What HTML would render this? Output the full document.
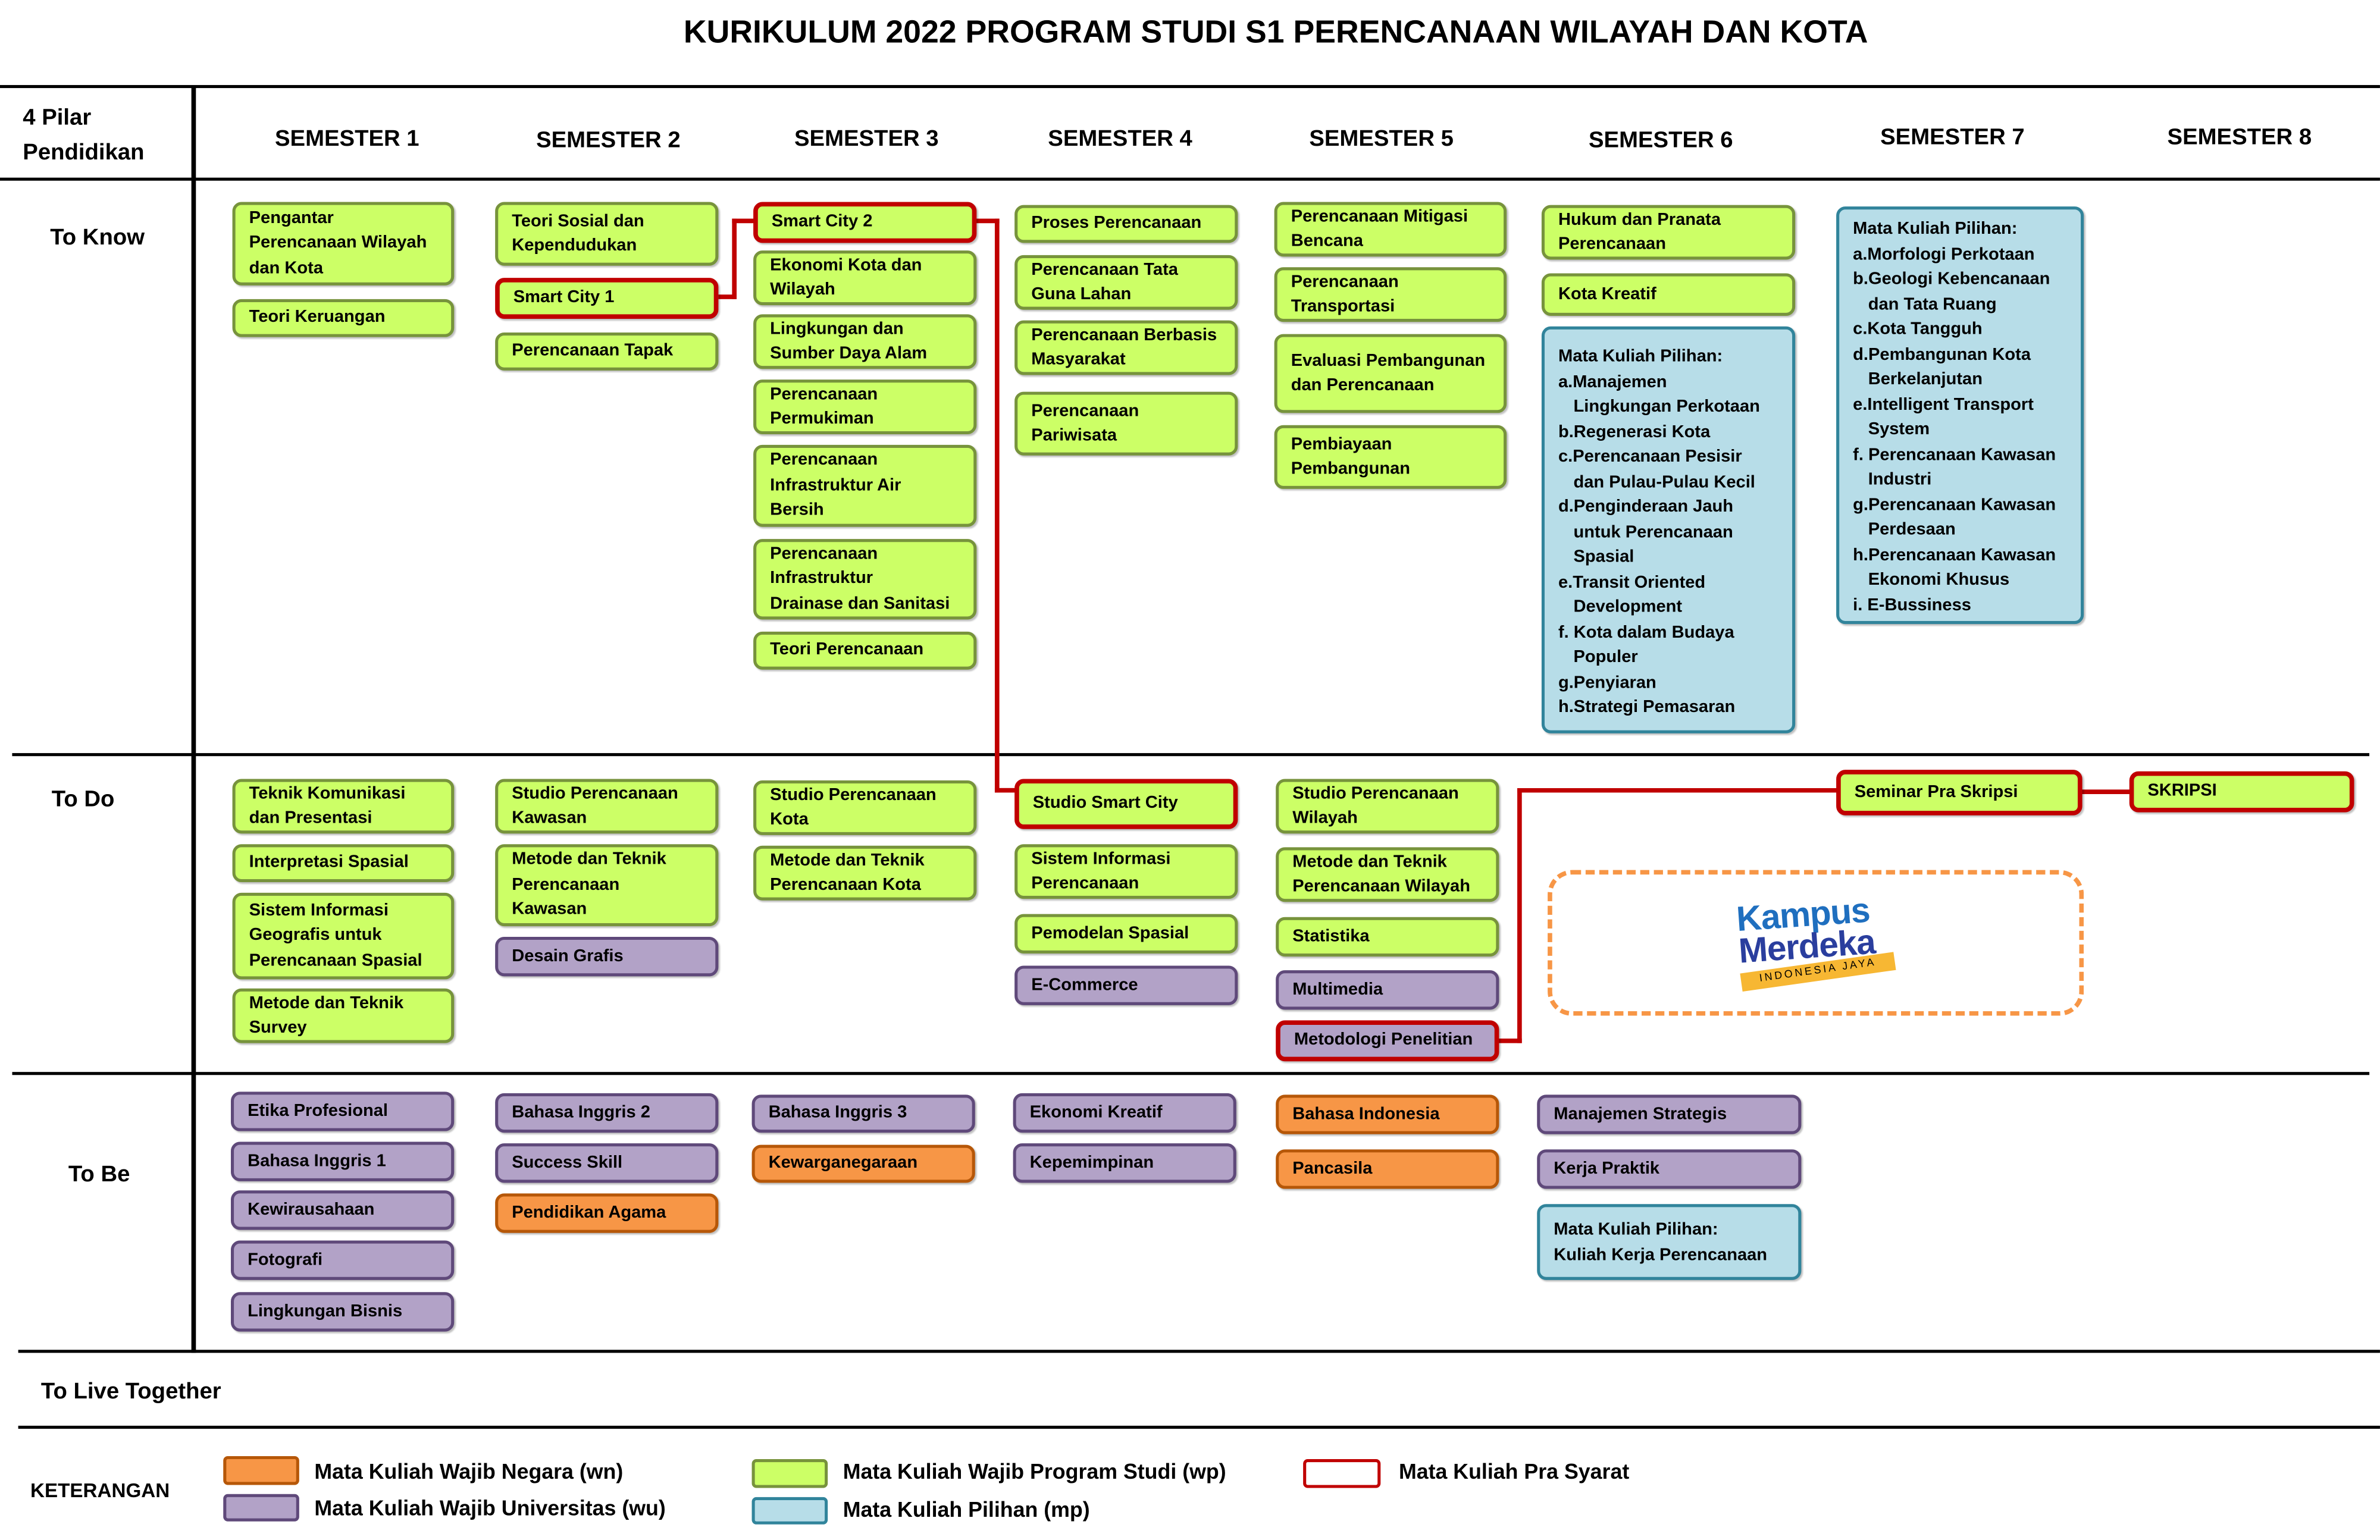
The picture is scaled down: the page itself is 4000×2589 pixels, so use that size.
<!DOCTYPE html>
<html><head><meta charset="utf-8">
<style>
html,body{margin:0;padding:0;background:#fff;}
body{width:4000px;height:2589px;overflow:hidden;position:relative;}
#s{position:absolute;left:0;top:0;width:1567px;height:1014px;transform:scale(2.5526);transform-origin:0 0;font-family:"Liberation Sans",sans-serif;color:#000;}
.t{position:absolute;font-weight:bold;white-space:nowrap;}
.l{position:absolute;background:#000;}
.b{position:absolute;display:flex;align-items:center;box-sizing:border-box;border:2px solid #77933c;background:#ccff66;border-radius:6px;padding:0 9px;font-weight:bold;font-size:11.4px;line-height:16.5px;white-space:nowrap;box-shadow:1px 1px 1px rgba(0,0,0,.25);}
.p{background:#b2a2c7;border-color:#5f497a;}
.o{background:#f79646;border-color:#b65708;}
.bl{background:#b7dde8;border-color:#31849b;display:block;padding:8px 9px;}
.r{border:3px solid #c00000;}
.bl .i{padding-left:10px;}
.rl{position:absolute;background:#c00000;}
</style></head><body><div id="s">
<div class="t" style="left:0;width:1680px;text-align:center;top:10px;font-size:21px;">KURIKULUM 2022 PROGRAM STUDI S1 PERENCANAAN WILAYAH DAN KOTA</div>
<div class="l" style="left:0;top:56px;width:1567px;height:2px;"></div>
<div class="l" style="left:126px;top:57px;width:3px;height:834px;"></div>
<div class="l" style="left:0;top:117px;width:1567px;height:2px;"></div>
<div class="l" style="left:8px;top:496px;width:1552px;height:2px;"></div>
<div class="l" style="left:8px;top:706px;width:1552px;height:2px;"></div>
<div class="l" style="left:12px;top:889px;width:1555px;height:2px;"></div>
<div class="l" style="left:12px;top:939px;width:1555px;height:2px;"></div>

<div class="t" style="left:15px;top:66px;font-size:15px;line-height:23px;">4 Pilar<br>Pendidikan</div>
<div class="t" style="left:181px;top:83px;font-size:15px;">SEMESTER 1</div>
<div class="t" style="left:353px;top:84px;font-size:15px;">SEMESTER 2</div>
<div class="t" style="left:523px;top:83px;font-size:15px;">SEMESTER 3</div>
<div class="t" style="left:690px;top:83px;font-size:15px;">SEMESTER 4</div>
<div class="t" style="left:862px;top:83px;font-size:15px;">SEMESTER 5</div>
<div class="t" style="left:1046px;top:84px;font-size:15px;">SEMESTER 6</div>
<div class="t" style="left:1238px;top:82px;font-size:15px;">SEMESTER 7</div>
<div class="t" style="left:1427px;top:82px;font-size:15px;">SEMESTER 8</div>
<div class="t" style="left:33px;top:148px;font-size:15px;">To Know</div>
<div class="t" style="left:34px;top:518px;font-size:15px;">To Do</div>
<div class="t" style="left:45px;top:765px;font-size:15px;">To Be</div>
<div class="t" style="left:27px;top:908px;font-size:15px;">To Live Together</div>

<div class="rl" style="left:473px;top:194px;width:12px;height:3px;"></div>
<div class="rl" style="left:482px;top:144px;width:3px;height:53px;"></div>
<div class="rl" style="left:482px;top:144px;width:16px;height:3px;"></div>
<div class="rl" style="left:641px;top:144px;width:17px;height:3px;"></div>
<div class="rl" style="left:655px;top:144px;width:3px;height:378px;"></div>
<div class="rl" style="left:655px;top:519px;width:15px;height:3px;"></div>
<div class="rl" style="left:985px;top:684px;width:17px;height:3px;"></div>
<div class="rl" style="left:999px;top:519px;width:3px;height:168px;"></div>
<div class="rl" style="left:999px;top:519px;width:212px;height:3px;"></div>
<div class="rl" style="left:1369px;top:520px;width:35px;height:3px;"></div>

<div class="b" style="left:153px;top:133px;width:146px;height:55px;">Pengantar<br>Perencanaan Wilayah<br>dan Kota</div>
<div class="b" style="left:153px;top:197px;width:146px;height:25px;">Teori Keruangan</div>
<div class="b" style="left:153px;top:513px;width:146px;height:36px;">Teknik Komunikasi<br>dan Presentasi</div>
<div class="b" style="left:153px;top:556px;width:146px;height:25px;">Interpretasi Spasial</div>
<div class="b" style="left:153px;top:588px;width:146px;height:57px;">Sistem Informasi<br>Geografis untuk<br>Perencanaan Spasial</div>
<div class="b" style="left:153px;top:651px;width:146px;height:36px;">Metode dan Teknik<br>Survey</div>
<div class="b p" style="left:152px;top:719px;width:147px;height:26px;">Etika Profesional</div>
<div class="b p" style="left:152px;top:752px;width:147px;height:26px;">Bahasa Inggris 1</div>
<div class="b p" style="left:152px;top:784px;width:147px;height:26px;">Kewirausahaan</div>
<div class="b p" style="left:152px;top:817px;width:147px;height:26px;">Fotografi</div>
<div class="b p" style="left:152px;top:851px;width:147px;height:26px;">Lingkungan Bisnis</div>

<div class="b" style="left:326px;top:133px;width:147px;height:42px;">Teori Sosial dan<br>Kependudukan</div>
<div class="b r" style="left:326px;top:183px;width:147px;height:27px;">Smart City 1</div>
<div class="b" style="left:326px;top:219px;width:147px;height:25px;">Perencanaan Tapak</div>
<div class="b" style="left:326px;top:513px;width:147px;height:36px;">Studio Perencanaan<br>Kawasan</div>
<div class="b" style="left:326px;top:556px;width:147px;height:54px;">Metode dan Teknik<br>Perencanaan<br>Kawasan</div>
<div class="b p" style="left:326px;top:617px;width:147px;height:26px;">Desain Grafis</div>
<div class="b p" style="left:326px;top:720px;width:147px;height:26px;">Bahasa Inggris 2</div>
<div class="b p" style="left:326px;top:753px;width:147px;height:26px;">Success Skill</div>
<div class="b o" style="left:326px;top:786px;width:147px;height:26px;">Pendidikan Agama</div>

<div class="b r" style="left:496px;top:133px;width:147px;height:27px;">Smart City 2</div>
<div class="b" style="left:496px;top:165px;width:147px;height:36px;">Ekonomi Kota dan<br>Wilayah</div>
<div class="b" style="left:496px;top:207px;width:147px;height:36px;">Lingkungan dan<br>Sumber Daya Alam</div>
<div class="b" style="left:496px;top:250px;width:147px;height:36px;">Perencanaan<br>Permukiman</div>
<div class="b" style="left:496px;top:293px;width:147px;height:54px;">Perencanaan<br>Infrastruktur Air<br>Bersih</div>
<div class="b" style="left:496px;top:355px;width:147px;height:53px;">Perencanaan<br>Infrastruktur<br>Drainase dan Sanitasi</div>
<div class="b" style="left:496px;top:416px;width:147px;height:25px;">Teori Perencanaan</div>
<div class="b" style="left:496px;top:514px;width:147px;height:36px;">Studio Perencanaan<br>Kota</div>
<div class="b" style="left:496px;top:557px;width:147px;height:36px;">Metode dan Teknik<br>Perencanaan Kota</div>
<div class="b p" style="left:495px;top:721px;width:147px;height:25px;">Bahasa Inggris 3</div>
<div class="b o" style="left:495px;top:754px;width:147px;height:25px;">Kewarganegaraan</div>

<div class="b" style="left:668px;top:135px;width:147px;height:25px;">Proses Perencanaan</div>
<div class="b" style="left:668px;top:168px;width:147px;height:36px;">Perencanaan Tata<br>Guna Lahan</div>
<div class="b" style="left:668px;top:211px;width:147px;height:36px;">Perencanaan Berbasis<br>Masyarakat</div>
<div class="b" style="left:668px;top:258px;width:147px;height:42px;">Perencanaan<br>Pariwisata</div>
<div class="b r" style="left:668px;top:513px;width:147px;height:33px;">Studio Smart City</div>
<div class="b" style="left:668px;top:556px;width:147px;height:36px;">Sistem Informasi<br>Perencanaan</div>
<div class="b" style="left:668px;top:602px;width:147px;height:26px;">Pemodelan Spasial</div>
<div class="b p" style="left:668px;top:636px;width:147px;height:26px;">E-Commerce</div>
<div class="b p" style="left:667px;top:720px;width:147px;height:26px;">Ekonomi Kreatif</div>
<div class="b p" style="left:667px;top:753px;width:147px;height:26px;">Kepemimpinan</div>

<div class="b" style="left:839px;top:133px;width:153px;height:36px;">Perencanaan Mitigasi<br>Bencana</div>
<div class="b" style="left:839px;top:176px;width:153px;height:36px;">Perencanaan<br>Transportasi</div>
<div class="b" style="left:839px;top:220px;width:153px;height:52px;">Evaluasi Pembangunan<br>dan Perencanaan</div>
<div class="b" style="left:839px;top:280px;width:153px;height:42px;">Pembiayaan<br>Pembangunan</div>
<div class="b" style="left:840px;top:513px;width:147px;height:36px;">Studio Perencanaan<br>Wilayah</div>
<div class="b" style="left:840px;top:558px;width:147px;height:36px;">Metode dan Teknik<br>Perencanaan Wilayah</div>
<div class="b" style="left:840px;top:604px;width:147px;height:26px;">Statistika</div>
<div class="b p" style="left:840px;top:639px;width:147px;height:26px;">Multimedia</div>
<div class="b p r" style="left:840px;top:672px;width:147px;height:27px;">Metodologi Penelitian</div>
<div class="b o" style="left:840px;top:721px;width:147px;height:26px;">Bahasa Indonesia</div>
<div class="b o" style="left:840px;top:757px;width:147px;height:26px;">Pancasila</div>

<div class="b" style="left:1015px;top:135px;width:167px;height:36px;">Hukum dan Pranata<br>Perencanaan</div>
<div class="b" style="left:1015px;top:180px;width:167px;height:28px;">Kota Kreatif</div>
<div class="b bl" style="left:1015px;top:215px;width:167px;height:268px;padding-top:10px;">
<div>Mata Kuliah Pilihan:</div><div>a.Manajemen</div><div class="i">Lingkungan Perkotaan</div><div>b.Regenerasi Kota</div><div>c.Perencanaan Pesisir</div><div class="i">dan Pulau-Pulau Kecil</div><div>d.Penginderaan Jauh</div><div class="i">untuk Perencanaan</div><div class="i">Spasial</div><div>e.Transit Oriented</div><div class="i">Development</div><div>f.&nbsp;Kota dalam Budaya</div><div class="i">Populer</div><div>g.Penyiaran</div><div>h.Strategi Pemasaran</div></div>
<div class="b p" style="left:1012px;top:721px;width:174px;height:26px;">Manajemen Strategis</div>
<div class="b p" style="left:1012px;top:757px;width:174px;height:26px;">Kerja Praktik</div>
<div class="b bl" style="left:1012px;top:793px;width:174px;height:50px;padding-top:7px;"><div>Mata Kuliah Pilihan:</div><div>Kuliah Kerja Perencanaan</div></div>

<div class="b bl" style="left:1209px;top:136px;width:163px;height:275px;padding-top:5px;">
<div>Mata Kuliah Pilihan:</div><div>a.Morfologi Perkotaan</div><div>b.Geologi Kebencanaan</div><div class="i">dan Tata Ruang</div><div>c.Kota Tangguh</div><div>d.Pembangunan Kota</div><div class="i">Berkelanjutan</div><div>e.Intelligent Transport</div><div class="i">System</div><div>f.&nbsp;Perencanaan Kawasan</div><div class="i">Industri</div><div>g.Perencanaan Kawasan</div><div class="i">Perdesaan</div><div>h.Perencanaan Kawasan</div><div class="i">Ekonomi Khusus</div><div>i.&nbsp;E-Bussiness</div></div>
<div class="b r" style="left:1209px;top:507px;width:162px;height:30px;">Seminar Pra Skripsi</div>
<div class="b r" style="left:1402px;top:508px;width:148px;height:27px;">SKRIPSI</div>

<div style="position:absolute;left:1019px;top:573px;width:353px;height:96px;box-sizing:border-box;border:3px dashed #f79646;border-radius:16px;"></div>
<div class="t" style="left:1144px;top:592px;font-size:23px;line-height:21px;color:#1f6fbf;letter-spacing:-0.5px;transform:rotate(-4deg);">Kampus<br><span style="color:#2a3e9e;">Merdeka</span></div>
<div class="t" style="left:1146px;top:634px;width:102px;height:12px;background:#f7b733;font-size:7px;line-height:12px;letter-spacing:1.5px;text-align:center;font-weight:normal;transform:rotate(-8deg);">INDONESIA JAYA</div>

<div class="t" style="left:20px;top:974px;font-size:13px;">KETERANGAN</div>
<div style="position:absolute;left:147px;top:959px;width:50px;height:19px;box-sizing:border-box;background:#f79646;border:2px solid #b65708;border-radius:3px;"></div>
<div style="position:absolute;left:147px;top:984px;width:50px;height:18px;box-sizing:border-box;background:#b2a2c7;border:2px solid #5f497a;border-radius:3px;"></div>
<div class="t" style="left:207px;top:961px;font-size:14px;">Mata Kuliah Wajib Negara (wn)</div>
<div class="t" style="left:207px;top:985px;font-size:14px;">Mata Kuliah Wajib Universitas (wu)</div>
<div style="position:absolute;left:495px;top:961px;width:50px;height:19px;box-sizing:border-box;background:#ccff66;border:2px solid #77933c;border-radius:3px;"></div>
<div style="position:absolute;left:495px;top:986px;width:50px;height:18px;box-sizing:border-box;background:#b7dde8;border:2px solid #31849b;border-radius:3px;"></div>
<div class="t" style="left:555px;top:961px;font-size:14px;">Mata Kuliah Wajib Program Studi (wp)</div>
<div class="t" style="left:555px;top:986px;font-size:14px;">Mata Kuliah Pilihan (mp)</div>
<div style="position:absolute;left:858px;top:961px;width:51px;height:19px;box-sizing:border-box;background:#fff;border:2px solid #c00000;border-radius:3px;"></div>
<div class="t" style="left:921px;top:961px;font-size:14px;">Mata Kuliah Pra Syarat</div>
</div></body></html>
